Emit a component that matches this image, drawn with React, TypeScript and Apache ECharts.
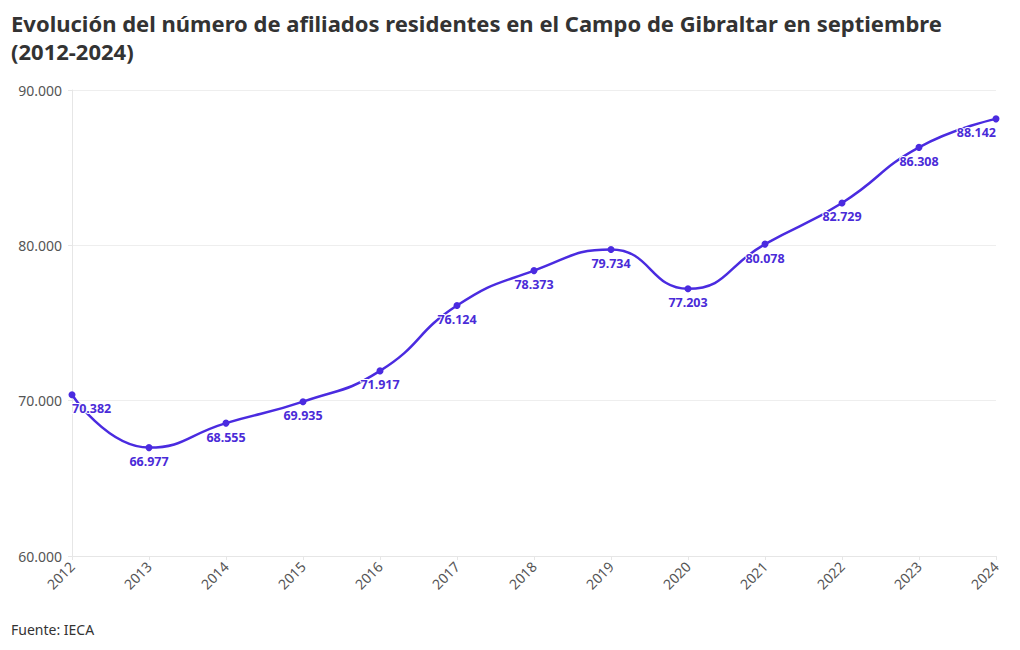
import React, { useEffect, useRef } from "react";
import * as echarts from "echarts";

const years = ["2012","2013","2014","2015","2016","2017","2018","2019","2020","2021","2022","2023","2024"];
const afiliados = [70382, 66977, 68555, 69935, 71917, 76124, 78373, 79734, 77203, 80078, 82729, 86308, 88142];
const titleText = "Evolución del número de afiliados residentes en el Campo de Gibraltar en septiembre\n(2012-2024)";
const sourceText = "Fuente: IECA";

const fmt = (v: number) => v.toLocaleString("de-DE");
const FONT = "'Noto Sans', sans-serif";

export default function App() {
  const ref = useRef<HTMLDivElement>(null);
  useEffect(() => {
    const chart = echarts.init(ref.current!, null, { renderer: "svg" });
    const data = afiliados.map((v, i) => {
      const item: any = { value: v };
      if (i === 0) item.label = { align: "left" };
      if (i === afiliados.length - 1) item.label = { align: "right" };
      return item;
    });
    chart.setOption({
      animation: false,
      textStyle: { fontFamily: FONT },
      title: {
        text: titleText,
        left: 11,
        top: 9,
        padding: 0,
        textStyle: { fontFamily: FONT, fontSize: 22, fontWeight: "bold", color: "#333", lineHeight: 28 },
      },
      graphic: [
        {
          type: "text",
          left: 11,
          top: 622,
          style: { text: sourceText, fontFamily: FONT, fontSize: 14, fill: "#333" },
        },
      ],
      grid: { left: 72, right: 24, top: 90, bottom: 94, containLabel: false },
      xAxis: {
        type: "category",
        data: years,
        boundaryGap: false,
        axisLine: { lineStyle: { color: "#e6e6e6" } },
        axisTick: { show: true, length: 4, lineStyle: { color: "#e6e6e6" } },
        axisLabel: { rotate: 45, color: "#555", fontSize: 14, fontFamily: FONT, margin: 8 },
      },
      yAxis: {
        type: "value",
        min: 60000,
        max: 90000,
        interval: 10000,
        axisLine: { show: true, lineStyle: { color: "#e6e6e6" } },
        axisTick: { show: true, length: 4, lineStyle: { color: "#e6e6e6" } },
        splitLine: { lineStyle: { color: "#eeeeee" } },
        axisLabel: { color: "#555", fontSize: 14, fontFamily: FONT, margin: 10, formatter: (v: number) => fmt(v) },
      },
      series: [
        {
          type: "line",
          data,
          smooth: 0.5,
          symbol: "circle",
          symbolSize: 7,
          lineStyle: { color: "#4a2be0", width: 2.5 },
          itemStyle: { color: "#4a2be0" },
          label: {
            show: true,
            position: "bottom",
            distance: 4,
            formatter: (p: any) => fmt(p.value),
            color: "#4a2bd8",
            fontWeight: "bold",
            fontSize: 12.5,
            fontFamily: FONT,
            textBorderColor: "#fff",
            textBorderWidth: 2,
          },
        },
      ],
    });
    return () => chart.dispose();
  }, []);
  return <div ref={ref} style={{ width: 1020, height: 650, position: "absolute", left: 0, top: 0 }} />;
}
